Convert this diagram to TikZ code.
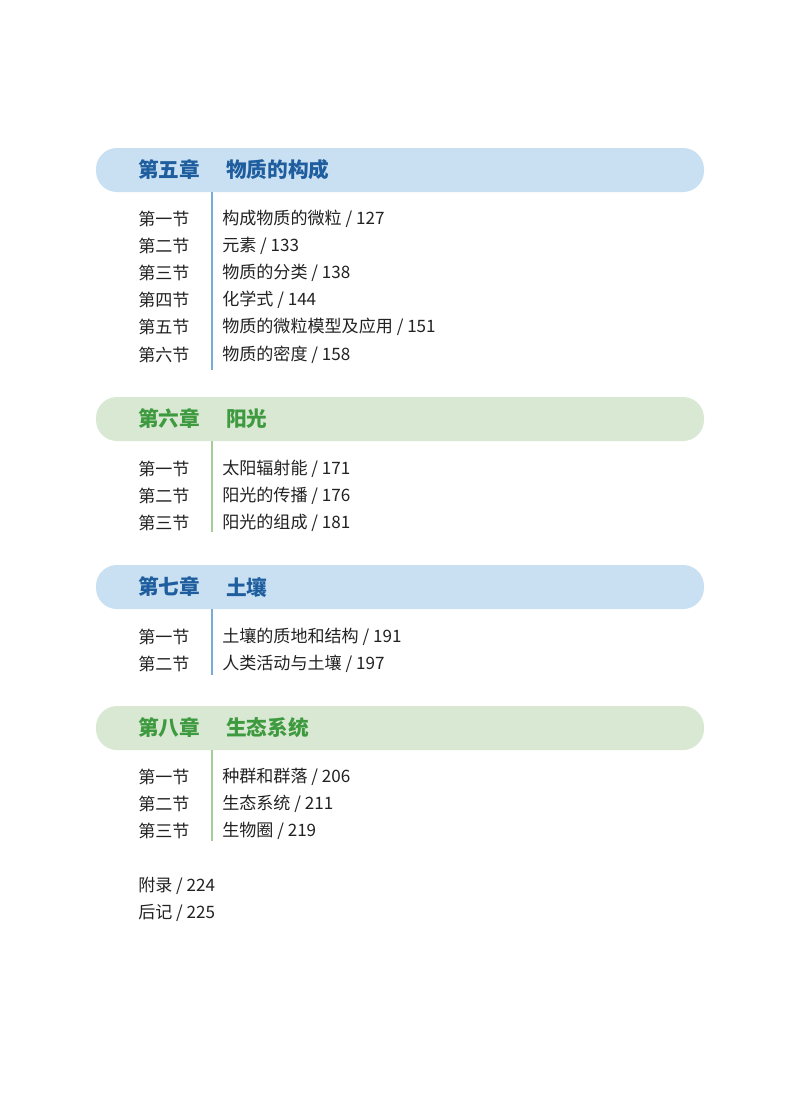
\documentclass[tikz,border=0pt]{standalone}
\usepackage{fontspec}
\setmainfont{Noto Sans CJK SC}
\definecolor{bbar}{HTML}{C9DFF2}
\definecolor{btxt}{HTML}{1F5E9E}
\definecolor{bline}{HTML}{7AAAD6}
\definecolor{gbar}{HTML}{D9E8D3}
\definecolor{gtxt}{HTML}{3E9A3E}
\definecolor{gline}{HTML}{A5CD98}
\definecolor{body}{HTML}{222222}
\begin{document}
\begin{tikzpicture}[x=0.75pt,y=-0.75pt,
  sec/.style={anchor=west,inner sep=0pt,font=\fontsize{12.8}{14}\selectfont,text=body},
  chap/.style={anchor=west,inner sep=0pt,font=\fontsize{15.5}{17}\selectfont\bfseries}]
\useasboundingbox[fill=white] (0,0) rectangle (800,1108);
\newcommand\chapbar[6]{% y, bar color, text color, line color, num, title
  \fill[#2,rounded corners=21pt*0.75] (96,#1-22) rectangle (704,#1+22);
  \node[chap,text=#3] (c#5) at (138,#1) {第#5章};
  \node[chap,text=#3] (t#5) at (226,#1) {#6};
}
\chapbar{170}{bbar}{btxt}{bline}{五}{物质的构成}
\chapbar{419}{gbar}{gtxt}{gline}{六}{阳光}
\chapbar{587}{bbar}{btxt}{bline}{七}{土壤}
\chapbar{728}{gbar}{gtxt}{gline}{八}{生态系统}
\draw[bline,line width=1.2pt] (212,192) -- (212,370);
\draw[gline,line width=1.2pt] (212,441) -- (212,532);
\draw[bline,line width=1.2pt] (212,609) -- (212,675);
\draw[gline,line width=1.2pt] (212,750) -- (212,841);
\foreach \y/\a/\b [count=\i] in {219/第一节/{构成物质的微粒 / 127}, 246/第二节/{元素 / 133}, 273/第三节/{物质的分类 / 138}, 300/第四节/{化学式 / 144}, 327/第五节/{物质的微粒模型及应用 / 151}, 355/第六节/{物质的密度 / 158},
 469/第一节/{太阳辐射能 / 171}, 496/第二节/{阳光的传播 / 176}, 523/第三节/{阳光的组成 / 181},
 637/第一节/{土壤的质地和结构 / 191}, 664/第二节/{人类活动与土壤 / 197},
 777/第一节/{种群和群落 / 206}, 804/第二节/{生态系统 / 211}, 831/第三节/{生物圈 / 219}}
 {\node[sec] (l\i) at (138,\y) {\a}; \node[sec] (r\i) at (222,\y) {\b};}
\node[sec] (fl) at (138,886) {附录 / 224};
\node[sec] (hj) at (138,913) {后记 / 225};
\end{tikzpicture}
\end{document}
